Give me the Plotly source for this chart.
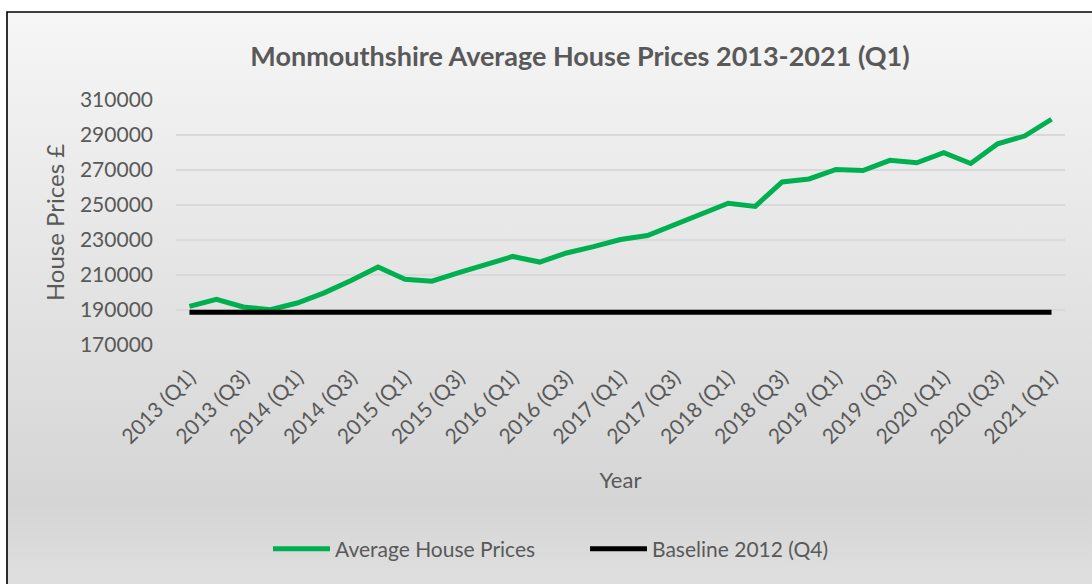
import base64
import plotly.graph_objects as go

quarters = [
    "2013 (Q1)", "2013 (Q2)", "2013 (Q3)", "2013 (Q4)",
    "2014 (Q1)", "2014 (Q2)", "2014 (Q3)", "2014 (Q4)",
    "2015 (Q1)", "2015 (Q2)", "2015 (Q3)", "2015 (Q4)",
    "2016 (Q1)", "2016 (Q2)", "2016 (Q3)", "2016 (Q4)",
    "2017 (Q1)", "2017 (Q2)", "2017 (Q3)", "2017 (Q4)",
    "2018 (Q1)", "2018 (Q2)", "2018 (Q3)", "2018 (Q4)",
    "2019 (Q1)", "2019 (Q2)", "2019 (Q3)", "2019 (Q4)",
    "2020 (Q1)", "2020 (Q2)", "2020 (Q3)", "2020 (Q4)",
    "2021 (Q1)",
]
avg_prices = [
    192100, 196100, 191700, 190200,
    194000, 199800, 206900, 214600,
    207600, 206500, 211300, 216300,
    220600, 217400, 222600, 226200,
    230300, 232600, 238700, 245000,
    251000, 249200, 263200, 264900,
    270300, 269700, 275500, 274100,
    279900, 273700, 285000, 289400,
    299000,
]
baseline_value = 188700
baseline = [baseline_value] * len(quarters)
tick_labels = quarters[::2]

TXT = "#595959"
FONT = "Lato"

W, H = 1092, 584
L, R, T, B = 176, 27, 100, 239
pw, ph = W - L - R, H - T - B

svg = (
    '<svg xmlns="http://www.w3.org/2000/svg" width="1086" height="573" '
    'viewBox="0 0 1086 573" preserveAspectRatio="none">'
    '<defs><linearGradient id="g" x1="0" y1="0" x2="0" y2="1">'
    '<stop offset="0" stop-color="#f6f6f6"/>'
    '<stop offset="0.86" stop-color="#d5d5d5"/>'
    '<stop offset="1" stop-color="#dfdfdf"/>'
    '</linearGradient></defs>'
    '<rect x="0" y="0" width="1086" height="573" fill="url(#g)"/>'
    '<path d="M1,573 L1,1 L1086,1" fill="none" stroke="#000" stroke-width="1.6"/>'
    '</svg>'
)
src = "data:image/svg+xml;base64," + base64.b64encode(svg.encode()).decode()

fig = go.Figure()
fig.add_trace(go.Scatter(
    x=quarters, y=avg_prices, mode="lines", name="Average House Prices",
    line=dict(color="#00b050", width=5),
))
fig.add_trace(go.Scatter(
    x=quarters, y=baseline, mode="lines", name="Baseline 2012 (Q4)",
    line=dict(color="#000000", width=5),
))

fig.update_layout(
    width=W, height=H,
    margin=dict(l=L, r=R, t=T, b=B),
    paper_bgcolor="white",
    plot_bgcolor="rgba(0,0,0,0)",
    font=dict(family=FONT, color=TXT),
    title=dict(
        text="<b>Monmouthshire Average House Prices 2013-2021 (Q1)</b>",
        x=580 / W, xanchor="center", xref="container",
        y=1 - 57 / H, yanchor="middle", yref="container",
        font=dict(size=27, color=TXT, family=FONT),
    ),
    images=[dict(
        source=src, xref="paper", yref="paper",
        x=(6 - L) / pw, y=(H - B - 11) / ph,
        sizex=1086 / pw, sizey=573 / ph,
        xanchor="left", yanchor="top", sizing="stretch", layer="below",
    )],
    legend=dict(
        orientation="h", x=(268 - L) / pw, xanchor="left",
        y=(H - B - 549) / ph, yanchor="middle",
        font=dict(size=21, color=TXT, family=FONT),
        itemwidth=57, entrywidth=245, entrywidthmode="pixels",
        bgcolor="rgba(0,0,0,0)",
    ),
    showlegend=True,
)

fig.update_xaxes(
    type="category", range=[-0.5, len(quarters) - 0.5],
    tickmode="array", tickvals=tick_labels, ticktext=tick_labels,
    tickangle=-45, tickfont=dict(size=21, color=TXT, family=FONT),
    showgrid=False, showline=False, zeroline=False, ticks="",
    ticklabelstandoff=15,
    title=dict(text="Year", font=dict(size=22, color=TXT, family=FONT), standoff=25),
)
fig.update_yaxes(
    range=[170000, 310000], dtick=20000, tick0=170000, tickformat="d",
    tickfont=dict(size=21, color=TXT, family=FONT),
    gridcolor="#d9d9d9", gridwidth=1.5, zeroline=False, showline=False,
    ticks="", ticklabelstandoff=22,
    title=dict(text="House Prices £", font=dict(size=24, color=TXT, family=FONT), standoff=8),
)

fig.write_html("out.html", config={"displayModeBar": False},
               post_script="document.body.style.margin='0';")
